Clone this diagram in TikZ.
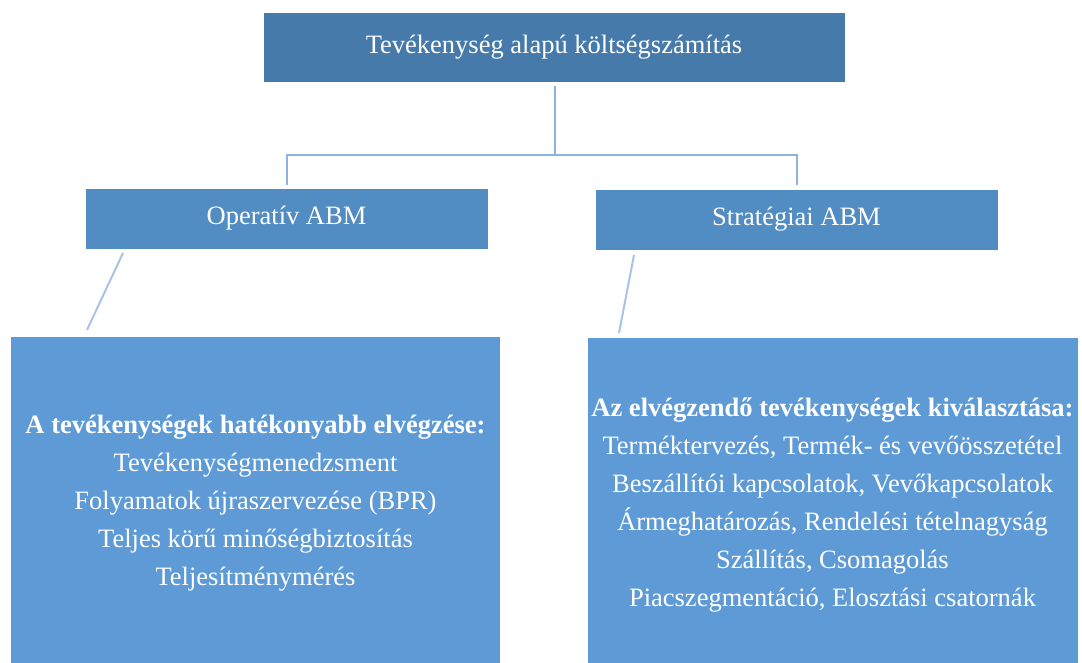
\documentclass[tikz,border=0pt]{standalone}
\usepackage{fontspec}
\setmainfont{Liberation Serif}
\definecolor{topc}{HTML}{467AAA}
\definecolor{midc}{HTML}{518CC2}
\definecolor{botc}{HTML}{5E9BD6}
\definecolor{linec}{HTML}{8DB3E2}
\definecolor{diagc}{HTML}{A6C4E8}
\tikzset{
  box/.style={fill=#1, draw=white, line width=0.8pt, inner sep=0pt, text=white, align=center},
  conn/.style={draw=linec, line width=2.2pt},
  diag/.style={draw=diagc, line width=2pt},
  headtext/.style={font=\fontsize{26.5}{30}\selectfont, text height=18pt, text depth=6pt},
  bodytext/.style={font=\fontsize{26.5}{38}\selectfont}
}
\begin{document}
\begin{tikzpicture}[x=1pt,y=-1pt]
\useasboundingbox (0,0) rectangle (1082,662);
\node[box=topc, minimum width=582pt, minimum height=70pt, headtext] (top) at (554,47) {Tevékenység alapú költségszámítás};
\node[box=midc, minimum width=403pt, minimum height=61pt, headtext] (op) at (286.5,218.5) {Operatív ABM};
\node[box=midc, minimum width=403pt, minimum height=61pt, headtext] (st) at (796.5,219.5) {Stratégiai ABM};
\node[box=botc, minimum width=490pt, minimum height=327pt] (lb) at (255.5,499.5) {};
\node[box=botc, minimum width=491pt, minimum height=326pt] (rb) at (832.5,500) {};
\node[text=white, align=center, bodytext, inner sep=0pt] (lt) at ([yshift=-4pt]lb.center) {\textbf{A tevékenységek hatékonyabb elvégzése:}\\Tevékenységmenedzsment\\Folyamatok újraszervezése (BPR)\\Teljes körű minőségbiztosítás\\Teljesítménymérés};
\node[text=white, align=center, bodytext, inner sep=0pt] (rt) at ([yshift=-5pt]rb.center) {\textbf{Az elvégzendő tevékenységek kiválasztása:}\\Terméktervezés, Termék- és vevőösszetétel\\Beszállítói kapcsolatok, Vevőkapcsolatok\\Ármeghatározás, Rendelési tételnagyság\\Szállítás, Csomagolás\\Piacszegmentáció, Elosztási csatornák};
\coordinate (hub) at (555,155);
\coordinate (tb) at (555,86);
\coordinate (opt) at (287,185);
\coordinate (stt) at (797,185);
\draw[conn] (tb) -- (hub);
\draw[conn] (opt) |- (hub) -| (stt);
\coordinate (ld1) at (123,253);
\coordinate (ld2) at (87,330);
\coordinate (rd1) at (634,255);
\coordinate (rd2) at (619,333);
\draw[diag] (ld1) -- (ld2);
\draw[diag] (rd1) -- (rd2);
\end{tikzpicture}
\end{document}
